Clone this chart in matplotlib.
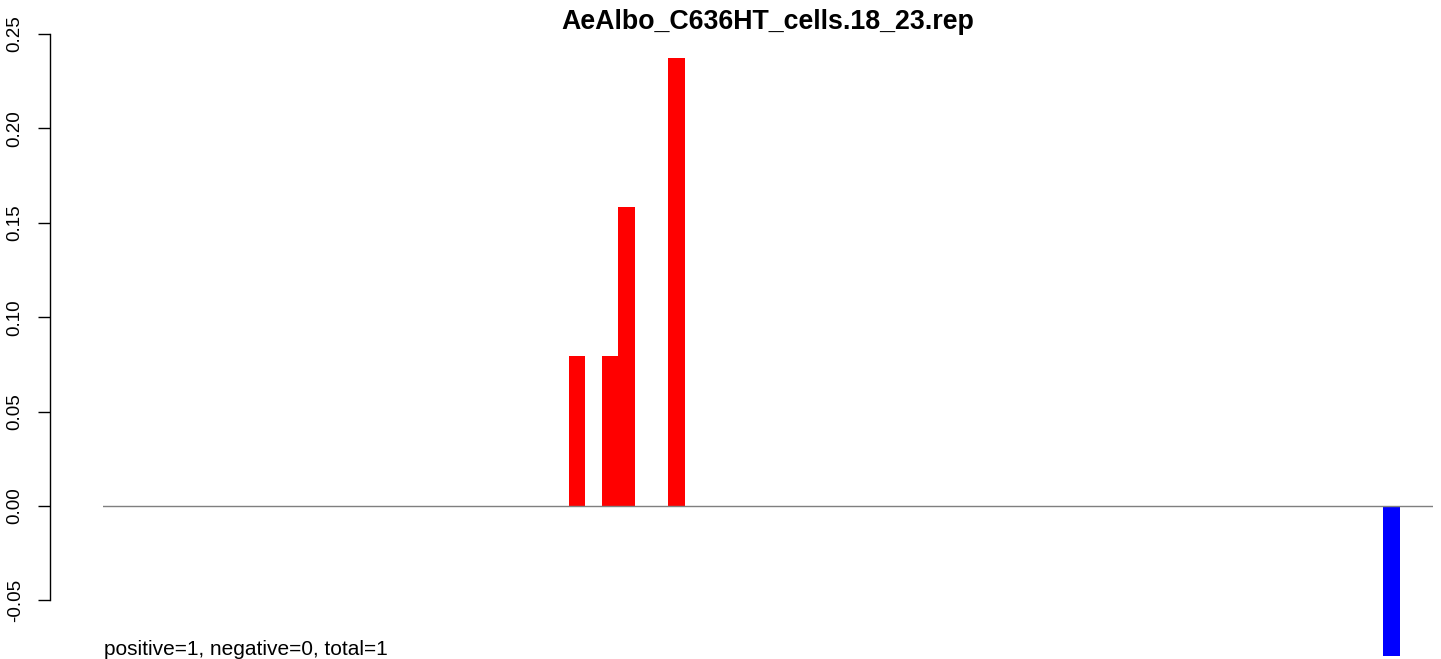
import matplotlib
matplotlib.use('Agg')
import matplotlib.pyplot as plt

# bar slots (0..79), only the non-empty ones are listed
positions = [28, 30, 31, 34, 77]
values = [0.0792, 0.0792, 0.1583, 0.2375, -0.0792]
n_slots = 80
yticks = [-0.05, 0.00, 0.05, 0.10, 0.15, 0.20, 0.25]
ylabels = ['-0.05', '0.00', '0.05', '0.10', '0.15', '0.20', '0.25']
title = 'AeAlbo_C636HT_cells.18_23.rep'
footer = 'positive=1, negative=0, total=1'

def rep_plot(name):
	plt.rcParams['font.family'] = ['Liberation Sans', 'DejaVu Sans']
	fig = plt.figure(figsize=(14.41, 6.59), dpi=100)
	# plot region in pixels: x 103..1433, y 30..659
	ax = fig.add_axes([103/1441., 0.0, 1330/1441., 629/659.])
	colors = ['red' if v > 0 else 'blue' for v in values]
	ax.bar(positions, values, width=1.0, align='edge', color=colors, linewidth=0)
	ax.axhline(0, color='#7f7f7f', linewidth=1.0, zorder=3)
	ax.set_xlim(0, n_slots)
	ax.set_ylim(-0.0810, 0.2521)

	for s in ['top', 'right', 'bottom']:
		ax.spines[s].set_visible(False)
	ax.spines['left'].set_position(('outward', 38))
	ax.spines['left'].set_bounds(-0.05, 0.25)
	ax.spines['left'].set_linewidth(1.0)
	ax.set_xticks([])
	ax.set_yticks(yticks)
	ax.set_yticklabels(ylabels, rotation=90, va='center', fontsize=13.5)
	ax.tick_params(axis='y', length=8.6, width=1.0, pad=10.5)

	fig.text(768/1441., 1 - 29/659., title, ha='center', va='baseline',
		fontsize=19.3, fontweight='bold')
	fig.text(104/1441., 1 - 655/659., footer, ha='left', va='baseline', fontsize=15)
	fig.savefig(name, dpi=100)

def main():
	rep_plot('out.png')

if __name__ == "__main__":
	main()
